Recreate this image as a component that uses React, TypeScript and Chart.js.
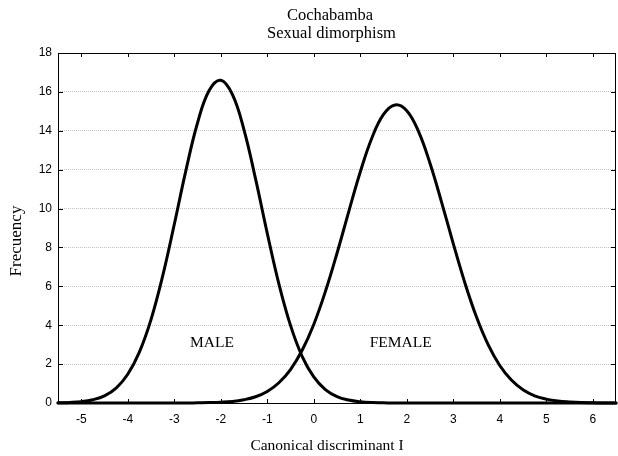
import React, { useEffect, useRef } from 'react';
import { Chart, registerables } from 'chart.js';

Chart.register(...registerables);

// Canonical discriminant I (x positions of sampled points)
const xValues = [
  -5.5, -5.25, -5, -4.75, -4.5, -4.25, -4, -3.75, -3.5, -3.25, -3, -2.75, -2.5, -2.25,
  -2, -1.75, -1.5, -1.25, -1, -0.75, -0.5, -0.25, 0, 0.25, 0.5, 0.75, 1, 1.25, 1.5,
  1.75, 2, 2.25, 2.5, 2.75, 3, 3.25, 3.5, 3.75, 4, 4.25, 4.5, 4.75, 5, 5.25, 5.5,
  5.75, 6, 6.25, 6.5,
];

// Frecuency, MALE curve
const maleValues = [
  0.01, 0.03, 0.07, 0.17, 0.37, 0.77, 1.48, 2.62, 4.29, 6.52, 9.18, 11.95, 14.4, 16.07,
  16.6, 15.87, 14.05, 11.51, 8.73, 6.13, 3.99, 2.4, 1.34, 0.69, 0.33, 0.15, 0.06, 0.02, 0.01,
  0, 0, 0, 0, 0, 0, 0, 0, 0, 0, 0, 0, 0, 0, 0, 0,
  0, 0, 0, 0,
];

// Frecuency, FEMALE curve
const femaleValues = [
  0, 0, 0, 0, 0, 0, 0, 0, 0, 0, 0, 0, 0.01, 0.02,
  0.04, 0.08, 0.17, 0.32, 0.59, 1.04, 1.72, 2.71, 4.04, 5.73, 7.7, 9.82, 11.88, 13.63, 14.84,
  15.33, 15.03, 13.98, 12.33, 10.32, 8.2, 6.18, 4.42, 3.0, 1.93, 1.18, 0.68, 0.37, 0.2, 0.1, 0.05,
  0.02, 0.01, 0, 0,
];

const xTickValues = [-5, -4, -3, -2, -1, 0, 1, 2, 3, 4, 5, 6];
const yTickValues = [0, 2, 4, 6, 8, 10, 12, 14, 16, 18];

const titleLines = ['Cochabamba', 'Sexual dimorphism'];
const xAxisTitle = 'Canonical discriminant I';
const yAxisTitle = 'Frecuency';
const groupLabels = ['MALE', 'FEMALE'];
const groupLabelX = [-2.19, 1.87];
const groupLabelY = [2.9, 2.9];

const SERIF = '"Liberation Serif", "Times New Roman", serif';
const SANS = '"Liberation Sans", Arial, sans-serif';

const framePlugin = {
  id: 'frameAndTexts',
  afterDatasetsDraw(chart: any) {
    const { ctx, chartArea, scales } = chart;
    const { left, right, top, bottom } = chartArea;
    const xs = scales.x;
    const ys = scales.y;
    ctx.save();
    ctx.strokeStyle = '#000';
    ctx.lineWidth = 1;
    ctx.beginPath();
    xs.ticks.forEach((t: any) => {
      const px = Math.round(xs.getPixelForValue(t.value)) + 0.5;
      ctx.moveTo(px, bottom);
      ctx.lineTo(px, bottom - 4);
      ctx.moveTo(px, top);
      ctx.lineTo(px, top + 4);
    });
    ys.ticks.forEach((t: any) => {
      const py = Math.round(ys.getPixelForValue(t.value)) + 0.5;
      ctx.moveTo(left, py);
      ctx.lineTo(left + 5, py);
      ctx.moveTo(right, py);
      ctx.lineTo(right - 5, py);
    });
    ctx.stroke();
    ctx.strokeRect(Math.round(left) + 0.5, Math.round(top) + 0.5, Math.round(right) - Math.round(left) - 1, Math.round(bottom) - Math.round(top));
    ctx.restore();
  },
  afterDraw(chart: any) {
    const { ctx, scales } = chart;
    const xs = scales.x;
    const ys = scales.y;
    ctx.save();
    ctx.fillStyle = '#000';
    ctx.textAlign = 'center';
    ctx.textBaseline = 'alphabetic';
    ctx.font = `16.5px ${SERIF}`;
    ctx.fillText(titleLines[0], 330, 19.5);
    ctx.fillText(titleLines[1], 331.5, 37.5);
    ctx.font = `15.5px ${SERIF}`;
    ctx.fillText(xAxisTitle, 327, 450);
    groupLabels.forEach((label, i) => {
      ctx.fillText(label, xs.getPixelForValue(groupLabelX[i]), ys.getPixelForValue(groupLabelY[i]));
    });
    ctx.translate(16.7, 241);
    ctx.rotate(-Math.PI / 2);
    ctx.textBaseline = 'middle';
    ctx.font = `17px ${SERIF}`;
    ctx.fillText(yAxisTitle, 0, 0);
    ctx.restore();
  },
};

function makeSeries(values: number[]) {
  return xValues.map((x, i) => ({ x, y: values[i] }));
}

export default function App() {
  const canvasRef = useRef<HTMLCanvasElement | null>(null);

  useEffect(() => {
    document.body.style.margin = '0';
    const canvas = canvasRef.current;
    if (!canvas) return;
    const chart = new Chart(canvas, {
      type: 'line',
      data: {
        datasets: [
          {
            label: groupLabels[0],
            data: makeSeries(maleValues),
            borderColor: '#000',
            borderWidth: 3,
            pointRadius: 0,
            tension: 0.4,
            fill: false,
            clip: 2,
            borderJoinStyle: 'round',
            borderCapStyle: 'round',
          },
          {
            label: groupLabels[1],
            data: makeSeries(femaleValues),
            borderColor: '#000',
            borderWidth: 3,
            pointRadius: 0,
            tension: 0.4,
            fill: false,
            clip: 2,
            borderJoinStyle: 'round',
            borderCapStyle: 'round',
          },
        ],
      } as any,
      options: {
        responsive: false,
        animation: false,
        events: [],
        layout: { padding: { left: 0, right: 2, top: 53, bottom: 0 } },
        plugins: {
          legend: { display: false },
          title: { display: false },
          tooltip: { enabled: false },
        },
        scales: {
          x: {
            type: 'linear',
            min: -5.5,
            max: 6.5,
            afterBuildTicks: (s: any) => {
              s.ticks = xTickValues.map((v) => ({ value: v }));
            },
            afterFit: (s: any) => {
              s.height = 53;
            },
            grid: { display: false, drawTicks: false },
            border: { display: false },
            ticks: {
              color: '#000',
              font: { family: SANS, size: 12 },
              padding: 9,
              maxRotation: 0,
              autoSkip: false,
            },
          },
          y: {
            type: 'linear',
            min: 0,
            max: 18,
            afterBuildTicks: (s: any) => {
              s.ticks = yTickValues.map((v) => ({ value: v }));
            },
            afterFit: (s: any) => {
              s.width = 58;
            },
            grid: { color: '#c4c4c4', drawTicks: false, lineWidth: 1 },
            border: { display: false, dash: [1, 1] },
            ticks: {
              color: '#000',
              font: { family: SANS, size: 12 },
              padding: 6,
              autoSkip: false,
            },
          },
        },
      } as any,
      plugins: [framePlugin],
    });
    return () => chart.destroy();
  }, []);

  return (
    <div style={{ width: 618, height: 456, background: '#fff' }}>
      <canvas ref={canvasRef} width={618} height={456} style={{ display: 'block' }} />
    </div>
  );
}
